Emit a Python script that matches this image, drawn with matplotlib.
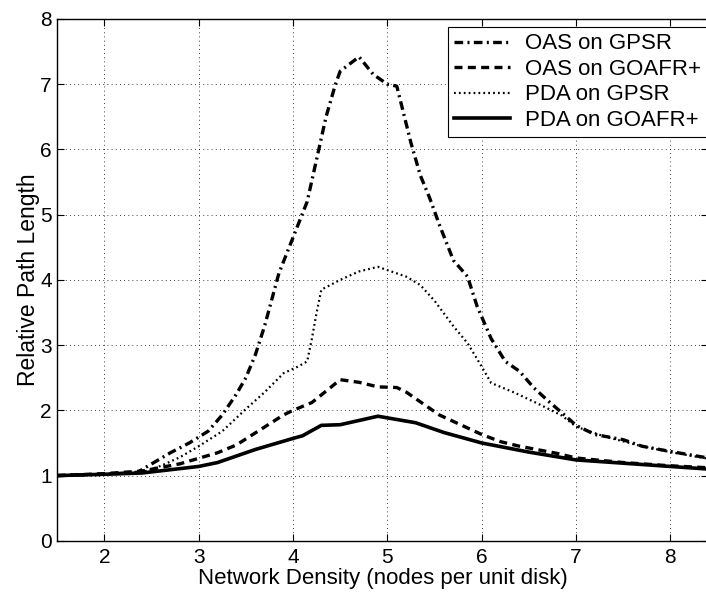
import matplotlib
matplotlib.use("Agg")
import matplotlib.pyplot as plt

plt.rcParams['font.family'] = ['Liberation Sans', 'DejaVu Sans']

# OAS on GPSR (dash-dot)
oas_gpsr_x = [1.5, 2.0, 2.35, 2.7, 2.9, 3.1, 3.25, 3.4, 3.5, 3.6, 3.7, 3.85, 4.0,
              4.15, 4.25, 4.35, 4.45, 4.5, 4.7, 4.85, 5.0, 5.1, 5.25, 5.35, 5.45,
              5.55, 5.7, 5.85, 5.95, 6.1, 6.25, 6.4, 6.55, 6.7, 6.9, 7.0, 7.2,
              7.5, 7.7, 8.0, 8.2, 8.4]
oas_gpsr_y = [1.0, 1.02, 1.05, 1.35, 1.5, 1.68, 1.93, 2.25, 2.5, 2.85, 3.3, 4.1, 4.65,
              5.2, 5.85, 6.5, 7.0, 7.2, 7.42, 7.15, 7.0, 6.97, 6.1, 5.6, 5.25,
              4.85, 4.3, 4.05, 3.6, 3.1, 2.75, 2.6, 2.35, 2.15, 1.9, 1.77, 1.63,
              1.55, 1.45, 1.37, 1.32, 1.27]

# OAS on GOAFR+ (dashed)
oas_goafr_x = [1.5, 2.0, 2.4, 2.8, 3.2, 3.4, 3.65, 3.9, 4.0, 4.2, 4.5, 4.7, 4.9,
               5.1, 5.2, 5.4, 5.55, 5.85, 6.0, 6.2, 6.4, 6.8, 7.0, 7.5, 8.0, 8.4]
oas_goafr_y = [1.0, 1.03, 1.07, 1.18, 1.35, 1.47, 1.7, 1.93, 2.0, 2.12, 2.47, 2.43, 2.36,
               2.35, 2.28, 2.08, 1.93, 1.73, 1.63, 1.52, 1.45, 1.34, 1.27, 1.2, 1.15, 1.12]

# PDA on GPSR (dotted)
pda_gpsr_x = [1.5, 2.0, 2.4, 2.6, 2.8, 3.0, 3.25, 3.5, 3.7, 3.9, 4.05, 4.15, 4.2,
              4.25, 4.3, 4.5, 4.7, 4.9, 5.0, 5.2, 5.35, 5.5, 5.7, 5.85, 6.0, 6.1,
              6.35, 6.6, 6.85, 7.0, 7.3, 7.7, 8.0, 8.4]
pda_gpsr_y = [1.0, 1.02, 1.05, 1.15, 1.28, 1.45, 1.68, 2.02, 2.28, 2.57, 2.67, 2.75, 3.1,
              3.5, 3.85, 4.0, 4.13, 4.2, 4.15, 4.05, 3.92, 3.68, 3.29, 3.03, 2.67, 2.42,
              2.27, 2.1, 1.92, 1.75, 1.6, 1.45, 1.36, 1.26]

# PDA on GOAFR+ (solid)
pda_goafr_x = [1.5, 2.0, 2.4, 3.0, 3.2, 3.6, 4.0, 4.1, 4.3, 4.5, 4.9, 5.3, 5.6,
               6.0, 6.5, 7.0, 7.5, 8.0, 8.4]
pda_goafr_y = [1.0, 1.02, 1.04, 1.14, 1.2, 1.4, 1.57, 1.61, 1.77, 1.78, 1.91, 1.81, 1.66,
               1.5, 1.36, 1.24, 1.19, 1.14, 1.1]

x_ticks = [2, 3, 4, 5, 6, 7, 8]
y_ticks = [0, 1, 2, 3, 4, 5, 6, 7, 8]

fig = plt.figure(figsize=(7.06, 5.93), dpi=100)
ax = fig.add_axes([0.081, 0.088, 0.922, 0.88])

ax.plot(oas_gpsr_x, oas_gpsr_y, color='black', lw=2.4,
        dashes=(2.6, 1.3, 0.6, 1.3), label='OAS on GPSR')
ax.plot(oas_goafr_x, oas_goafr_y, color='black', lw=2.4,
        dashes=(2.4, 1.6), label='OAS on GOAFR+')
ax.plot(pda_gpsr_x, pda_gpsr_y, color='black', lw=1.6,
        dashes=(0.8, 1.4), label='PDA on GPSR')
ax.plot(pda_goafr_x, pda_goafr_y, color='black', lw=2.6,
        label='PDA on GOAFR+')

ax.set_xlim(1.5, 8.4)
ax.set_ylim(0, 8)
ax.set_xticks(x_ticks)
ax.set_yticks(y_ticks)
ax.tick_params(direction='in', top=True, right=True, length=5,
               labelsize=15)
ax.tick_params(axis='x', pad=5)
ax.tick_params(axis='y', pad=4)
ax.grid(True, color='black', lw=0.6, linestyle=(0, (1, 4)))

for s in ax.spines.values():
    s.set_linewidth(1.0)

ax.set_xlabel('Network Density (nodes per unit disk)', fontsize=16, labelpad=1)
ax.set_ylabel('Relative Path Length', fontsize=16.5, labelpad=0)

leg = ax.legend(loc='upper right', bbox_to_anchor=(1.0, 0.985),
                borderaxespad=0, fancybox=False, framealpha=1,
                edgecolor='black', fontsize=16, handlelength=2.5,
                handletextpad=0.7, labelspacing=0.2, borderpad=0.3)
leg.get_frame().set_linewidth(0.8)

fig.savefig('out.png', dpi=100)
